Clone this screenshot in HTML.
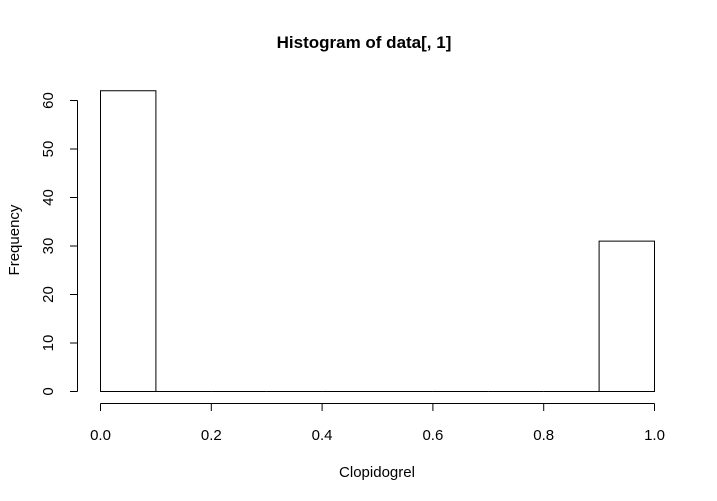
<!DOCTYPE html>
<html><head><meta charset="utf-8"><style>body{margin:0;background:#fff}svg{display:block}text{font-family:"Liberation Sans",Arial,sans-serif;fill:#000}</style></head>
<body>
<svg id="c" width="717" height="501">
<text x="364" y="48" text-anchor="middle" font-size="17" font-weight="bold">Histogram of data[, 1]</text>
<text x="377" y="477" text-anchor="middle" font-size="15">Clopidogrel</text>
<text transform="translate(19,240) rotate(-90)" text-anchor="middle" font-size="15">Frequency</text>
<g id="bars"></g><g id="xa"></g><g id="ya"></g>
</svg>
<script>
const binStarts=[0,0.1,0.2,0.3,0.4,0.5,0.6,0.7,0.8,0.9];
const counts=[62,0,0,0,0,0,0,0,0,31];
const xTicks=[0,0.2,0.4,0.6,0.8,1.0];
const xTickLabels=["0.0","0.2","0.4","0.6","0.8","1.0"];
const yTicks=[0,10,20,30,40,50,60];
const binWidth=0.1;
const NS="http://www.w3.org/2000/svg";
const X=v=>100.5+v*554;
const Y=v=>391.5-v*4.85;
function mk(t,a,p){const e=document.createElementNS(NS,t);for(const k in a)e.setAttribute(k,a[k]);p.appendChild(e);return e;}
const bars=document.getElementById('bars');
binStarts.forEach((b,i)=>{
 const x0=X(b),x1=X(b+binWidth),y0=Y(0),y1=Y(counts[i]);
 const r=mk('path',{d:`M${x0},${y0}L${x0},${y1}L${x1},${y1}L${x1},${y0}Z`,fill:'#fff',stroke:'#000','stroke-width':1},bars);
 
 
});
const xa=document.getElementById('xa');
const xl=mk('line',{x1:X(xTicks[0]),x2:X(xTicks[xTicks.length-1]),y1:403.5,y2:403.5,stroke:'#000'},xa);


xTicks.forEach((t,i)=>{
 mk('line',{x1:X(t),x2:X(t),y1:403.5,y2:411,stroke:'#000'},xa);
 const tx=mk('text',{x:X(t),y:440,'text-anchor':'middle','font-size':15},xa);tx.textContent=xTickLabels[i];
 
 
});
const ya=document.getElementById('ya');
const yl=mk('line',{x1:77.5,x2:77.5,y1:Y(yTicks[0]),y2:Y(yTicks[yTicks.length-1]),stroke:'#000'},ya);


yTicks.forEach(t=>{
 mk('line',{x1:70,x2:77.5,y1:Y(t),y2:Y(t),stroke:'#000'},ya);
 const tx=mk('text',{transform:`translate(53,${Y(t)}) rotate(-90)`,'text-anchor':'middle','font-size':15},ya);tx.textContent=t;
 
 
});
</script>
</body></html>
